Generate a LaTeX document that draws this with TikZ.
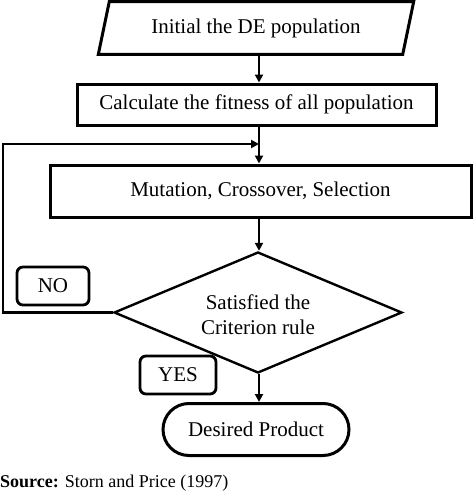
\documentclass[tikz,border=0pt]{standalone}
\usepackage{fontspec}
\setmainfont{Liberation Serif}
\usetikzlibrary{shapes.geometric,arrows.meta,calc}
\begin{document}
\begin{tikzpicture}[x=1pt,y=-1pt,
  box/.style={draw,line width=3pt,inner sep=0pt},
  txt/.style={font=\fontsize{21}{23}\selectfont},
  arr/.style={line width=2.8pt,-{Triangle[length=8pt,width=8pt]}},
  lbl/.style={draw,line width=2.8pt,rounded corners=6pt,inner sep=0pt,font=\fontsize{21}{23}\selectfont}]
\useasboundingbox (0,0) rectangle (474,495);
% parallelogram
\node[txt,minimum width=304pt,minimum height=52.5pt,inner sep=0pt] (init) at (256,28) {Initial the DE population};
\draw[line width=3pt,line join=miter] ([xshift=5.5pt]init.north west) -- ([xshift=5.5pt]init.north east) -- ([xshift=-5.5pt]init.south east) -- ([xshift=-5.5pt]init.south west) -- cycle;
\node[box,txt,minimum width=359pt,minimum height=41pt] (calc) at (256.5,104.5) {Calculate the fitness of all population};
\node[box,txt,minimum width=421pt,minimum height=52pt] (mut) at (260.5,191) {Mutation, Crossover, Selection};
\node[draw,diamond,line width=2.4pt,minimum width=288pt,minimum height=121pt,inner sep=0pt] (dia) at (258,312.5) {};
\node[txt,align=center] (diatxt) at (258,315) {Satisfied the\\[2pt]Criterion rule};
\node[box,txt,rounded corners=26pt,minimum width=186pt,minimum height=52pt] (end) at (256,429.5) {Desired Product};
\node[lbl,minimum width=72pt,minimum height=38pt] (no) at (53,286) {NO};
\node[lbl,minimum width=76pt,minimum height=38pt] (yes) at (178,375) {YES};
\coordinate (j) at (259,144);
\coordinate (lc) at (3,144);
\draw[arr] (init.south -| j) -- (calc.north -| j);
\draw[arr] (calc.south -| j) -- (mut.north -| j);
\draw[arr] (mut.south -| j) -- (dia.north -| j);
\draw[arr] (dia.south -| j) -- (end.north -| j);
\draw[arr] (dia.west) -| (lc) -- (j);
\node[anchor=west,inner sep=0pt,font=\fontsize{18}{20}\selectfont] (src) at (0,483) {\textbf{Source:} Storn and Price (1997)};
\end{tikzpicture}
\end{document}
